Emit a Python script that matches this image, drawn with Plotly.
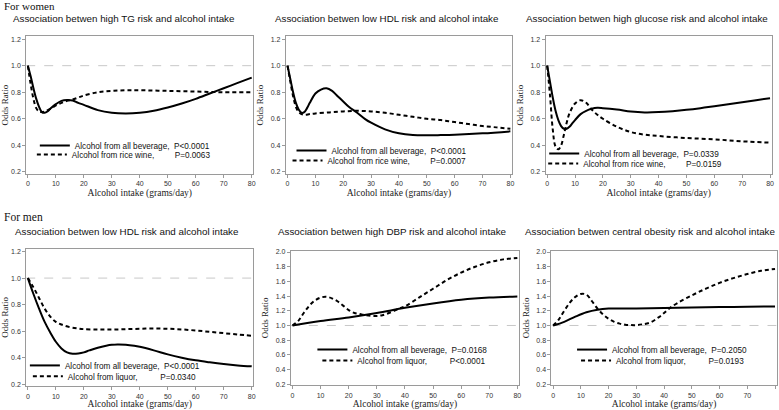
import plotly.graph_objects as go

W, H = 779, 410

# ---------------- data ----------------
# Women: high TG
tg_all_x = [0, 1, 2, 3, 4, 5, 6, 7, 8, 10, 12, 14, 16, 18, 20, 25, 30, 35, 40, 45, 50, 55, 60, 65, 70, 75, 80]
tg_all_y = [1.0, 0.92, 0.83, 0.75, 0.69, 0.65, 0.645, 0.655, 0.675, 0.71, 0.735, 0.742, 0.738, 0.72, 0.705,
            0.665, 0.645, 0.64, 0.645, 0.66, 0.685, 0.715, 0.75, 0.79, 0.83, 0.87, 0.91]
tg_wine_x = [0, 1, 2, 3, 4, 5, 6, 8, 10, 12, 14, 16, 18, 20, 25, 30, 35, 40, 50, 60, 70, 80]
tg_wine_y = [1.0, 0.86, 0.75, 0.68, 0.655, 0.65, 0.655, 0.675, 0.70, 0.72, 0.735, 0.745, 0.76, 0.775,
             0.80, 0.81, 0.815, 0.815, 0.81, 0.805, 0.80, 0.80]

# Women: low HDL
hdlw_all_x = [0, 1, 2, 3, 4, 5, 6, 7, 8, 10, 12, 14, 16, 18, 20, 22, 25, 28, 30, 35, 40, 45, 50, 55, 60, 70, 80]
hdlw_all_y = [1.0, 0.90, 0.80, 0.72, 0.67, 0.645, 0.65, 0.68, 0.72, 0.79, 0.82, 0.83, 0.81, 0.77, 0.73,
              0.69, 0.645, 0.595, 0.57, 0.52, 0.49, 0.477, 0.475, 0.477, 0.48, 0.49, 0.505]
hdlw_wine_x = [0, 1, 2, 3, 4, 5, 6, 8, 10, 15, 20, 25, 30, 35, 40, 45, 50, 55, 60, 65, 70, 75, 80]
hdlw_wine_y = [1.0, 0.88, 0.77, 0.69, 0.65, 0.635, 0.63, 0.635, 0.64, 0.648, 0.655, 0.66, 0.655, 0.645,
               0.63, 0.615, 0.60, 0.59, 0.575, 0.56, 0.545, 0.535, 0.525]

# Women: high glucose
glu_all_x = [0, 1, 2, 3, 4, 5, 6, 7, 8, 9, 10, 12, 14, 16, 18, 20, 25, 30, 35, 40, 45, 50, 55, 60, 65, 70, 75, 80]
glu_all_y = [1.0, 0.88, 0.76, 0.66, 0.59, 0.545, 0.525, 0.525, 0.54, 0.565, 0.59, 0.635, 0.66, 0.675, 0.682,
             0.68, 0.67, 0.655, 0.648, 0.65, 0.657, 0.667, 0.68, 0.695, 0.71, 0.725, 0.74, 0.755]
glu_wine_x = [0, 1, 2, 3, 4, 5, 6, 7, 8, 10, 12, 14, 16, 18, 20, 25, 30, 35, 40, 50, 60, 70, 80]
glu_wine_y = [1.0, 0.78, 0.52, 0.39, 0.37, 0.40, 0.48, 0.57, 0.64, 0.715, 0.74, 0.72, 0.67, 0.63, 0.60,
              0.54, 0.50, 0.48, 0.47, 0.455, 0.445, 0.43, 0.42]

# Men: low HDL
hdlm_all_x = [0, 2, 4, 6, 8, 10, 12, 14, 16, 18, 20, 22, 25, 28, 30, 32, 35, 38, 40, 45, 50, 55, 60, 65, 70, 75, 80]
hdlm_all_y = [1.0, 0.88, 0.77, 0.67, 0.59, 0.52, 0.47, 0.44, 0.43, 0.432, 0.44, 0.455, 0.475, 0.49, 0.497,
              0.50, 0.498, 0.49, 0.482, 0.455, 0.425, 0.40, 0.38, 0.365, 0.352, 0.342, 0.335]
hdlm_liq_x = [0, 2, 4, 6, 8, 10, 12, 15, 18, 20, 25, 30, 35, 40, 45, 50, 55, 60, 65, 70, 75, 80]
hdlm_liq_y = [1.0, 0.93, 0.85, 0.77, 0.71, 0.67, 0.65, 0.63, 0.62, 0.615, 0.612, 0.612, 0.615, 0.618,
              0.62, 0.618, 0.613, 0.605, 0.595, 0.585, 0.575, 0.565]

# Men: high DBP
dbp_all_x = [0, 10, 20, 30, 40, 50, 60, 70, 80]
dbp_all_y = [1.0, 1.06, 1.11, 1.17, 1.24, 1.30, 1.35, 1.38, 1.395]
dbp_liq_x = [0, 2, 4, 6, 8, 10, 12, 14, 16, 18, 20, 22, 24, 26, 28, 30, 32, 35, 38, 40, 45, 50, 55, 60, 65, 70, 75, 80]
dbp_liq_y = [1.0, 1.06, 1.17, 1.27, 1.34, 1.38, 1.39, 1.37, 1.33, 1.27, 1.21, 1.17, 1.155, 1.14, 1.13, 1.13,
             1.14, 1.18, 1.23, 1.26, 1.38, 1.50, 1.62, 1.72, 1.80, 1.86, 1.90, 1.92]

# Men: central obesity
ob_all_x = [0, 4, 8, 12, 16, 20, 30, 40, 50, 60, 70, 80]
ob_all_y = [1.0, 1.05, 1.12, 1.18, 1.215, 1.23, 1.232, 1.238, 1.245, 1.25, 1.255, 1.26]
ob_liq_x = [0, 2, 4, 6, 8, 10, 12, 14, 16, 18, 20, 22, 24, 26, 28, 30, 32, 35, 38, 40, 42, 45, 50, 55, 60, 65, 70, 75, 80]
ob_liq_y = [1.0, 1.08, 1.2, 1.31, 1.39, 1.43, 1.42, 1.33, 1.23, 1.15, 1.09, 1.05, 1.025, 1.01, 1.005, 1.005,
            1.015, 1.04, 1.11, 1.17, 1.235, 1.31, 1.41, 1.50, 1.58, 1.645, 1.70, 1.745, 1.77]

titles = [
    "Association betwen high TG risk and alcohol intake",
    "Association betwen low HDL risk and alcohol intake",
    "Association betwen high glucose risk and alcohol intake",
    "Association betwen low HDL risk and alcohol intake",
    "Association betwen high DBP risk and alcohol intake",
    "Association betwen central obesity risk and alcohol intake",
]
legend_all = ["Alcohol from all beverage,  P<0.0001", "Alcohol from all beverage,  P<0.0001",
              "Alcohol from all beverage,  P=0.0339", "Alcohol from all beverage,  P<0.0001",
              "Alcohol from all beverage,  P=0.0168", "Alcohol from all beverage,  P=0.2050"]
NB = "\u00a0"
legend_sub = ["Alcohol from rice wine," + NB * 9 + "P=0.0063",
              "Alcohol from rice wine," + NB * 9 + "P=0.0007",
              "Alcohol from rice wine," + NB * 9 + "P=0.0159",
              "Alcohol from liquor," + NB * 10 + "P=0.0340",
              "Alcohol from liquor," + NB * 10 + "P<0.0001",
              "Alcohol from liquor," + NB * 10 + "P=0.0193"]

series = [
    (tg_all_x, tg_all_y, tg_wine_x, tg_wine_y),
    (hdlw_all_x, hdlw_all_y, hdlw_wine_x, hdlw_wine_y),
    (glu_all_x, glu_all_y, glu_wine_x, glu_wine_y),
    (hdlm_all_x, hdlm_all_y, hdlm_liq_x, hdlm_liq_y),
    (dbp_all_x, dbp_all_y, dbp_liq_x, dbp_liq_y),
    (ob_all_x, ob_all_y, ob_liq_x, ob_liq_y),
]

# ---------------- layout geometry (pixels) ----------------
# (x of 0, x of 80, y of top tick, y of bottom tick, top tick val, bottom tick val, y range)
panels = [
    (26, 251, 37.5, 171.5, 1.2, 0.2, (0.185, 1.222)),
    (287, 511, 37.5, 171.5, 1.2, 0.2, (0.185, 1.222)),
    (548, 772, 37.5, 171.5, 1.2, 0.2, (0.185, 1.222)),
    (26, 251, 252, 386, 1.2, 0.2, (0.185, 1.222)),
    (292, 518, 252.5, 386, 2.0, 0.2, (0.185, 2.02)),
    (554, 777, 252.5, 386, 2.0, 0.2, (0.185, 2.02)),
]
XR = (-0.6, 80.6)
title_pos = [(123, 17), (387, 17), (648, 17), (126, 232), (393, 232), (652, 232)]

# legend text start x, row y (pixels)
leg_pos = [
    ((73, 145), (70, 154)),
    ((331, 150), (327, 160)),
    ((585, 153), (584, 163)),
    ((63, 367), (66, 378)),
    ((352, 351), (357, 362)),
    ((613, 351), (617, 362)),
]

fig = go.Figure()
layout = dict(width=W, height=H, margin=dict(l=0, r=0, t=0, b=0),
              paper_bgcolor="white", plot_bgcolor="white", showlegend=True)

annotations = []
for i, (p0, p80, pt, pb, vt, vb, yr) in enumerate(panels):
    n = i + 1
    xa = "xaxis" if n == 1 else f"xaxis{n}"
    ya = "yaxis" if n == 1 else f"yaxis{n}"
    xr = "x" if n == 1 else f"x{n}"
    yrf = "y" if n == 1 else f"y{n}"
    ppx = (p80 - p0) / 80.0
    left = p0 + XR[0] * ppx
    right = p0 + XR[1] * ppx
    ppy = (pb - pt) / (vt - vb)
    top = pt - (yr[1] - vt) * ppy
    bot = pb + (vb - yr[0]) * ppy
    axcommon = dict(showgrid=False, zeroline=False, showline=True, mirror=True,
                    linecolor="#9a9a9a", linewidth=1, ticks="outside", ticklen=3,
                    tickcolor="#9a9a9a", tickfont=dict(family="Liberation Sans, Arial", size=7, color="#333"))
    layout[xa] = dict(domain=[left / W, right / W], range=list(XR), anchor=yrf,
                      tickvals=list(range(0, 81, 10)),
                      title=dict(text="Alcohol intake (grams/day)", standoff=3,
                                 font=dict(family="Liberation Serif, Times New Roman", size=9.5, color="#222")),
                      **axcommon)
    ystep = 0.2
    nt = int(round((vt - vb) / ystep)) + 1
    layout[ya] = dict(domain=[1 - bot / H, 1 - top / H], range=list(yr), anchor=xr,
                      tickvals=[round(vb + k * ystep, 1) for k in range(nt)], tickformat=".1f",
                      title=dict(text="Odds Ratio", standoff=5,
                                 font=dict(family="Liberation Serif, Times New Roman", size=9, color="#222")),
                      **axcommon)
    # reference line at OR = 1
    fig.add_trace(go.Scatter(x=[XR[0], XR[1]], y=[1.0, 1.0], mode="lines",
                             line=dict(color="#c8c8c8", width=1, dash="dash"),
                             xaxis=xr, yaxis=yrf, showlegend=False, hoverinfo="skip"))
    ax, ay, bx, by = series[i]
    (t1x, t1y), (t2x, t2y) = leg_pos[i]
    l1 = "legend" if 2 * i + 1 == 1 else f"legend{2 * i + 1}"
    l2 = f"legend{2 * i + 2}"
    fig.add_trace(go.Scatter(x=ax, y=ay, mode="lines", line=dict(color="black", width=2, shape="spline", smoothing=1.0),
                             xaxis=xr, yaxis=yrf, name=legend_all[i], legend=l1))
    fig.add_trace(go.Scatter(x=bx, y=by, mode="lines",
                             line=dict(color="black", width=2, shape="spline", smoothing=1.0, dash="4px,3px"),
                             xaxis=xr, yaxis=yrf, name=legend_sub[i], legend=l2))
    for lname, tx, ty in ((l1, t1x, t1y), (l2, t2x, t2y)):
        layout[lname] = dict(x=(tx - 40) / W, y=1 - ty / H, xanchor="left", yanchor="middle",
                             bgcolor="rgba(0,0,0,0)", borderwidth=0,
                             font=dict(family="Liberation Sans, Arial", size=8.2, color="#111"),
                             itemwidth=30, tracegroupgap=0)
    # subplot title
    cx, ty = title_pos[i]
    annotations.append(dict(text=titles[i], x=cx / W, y=1 - ty / H, xref="paper", yref="paper",
                            xanchor="center", yanchor="middle", showarrow=False,
                            font=dict(family="Liberation Sans, Arial", size=9.8, color="#111")))

annotations.append(dict(text="For women", x=0, y=1 - 4.5 / H, xref="paper", yref="paper",
                        xanchor="left", yanchor="middle", showarrow=False,
                        font=dict(family="Liberation Serif, Times New Roman", size=11, color="#111")))
annotations.append(dict(text="For men", x=0, y=1 - 217 / H, xref="paper", yref="paper",
                        xanchor="left", yanchor="middle", showarrow=False,
                        font=dict(family="Liberation Serif, Times New Roman", size=11.5, color="#111")))
layout["annotations"] = annotations
fig.update_layout(**layout)
fig.write_html("out.html", config={"displayModeBar": False},
               post_script="document.body.style.margin='0px';document.body.style.overflow='hidden';")
